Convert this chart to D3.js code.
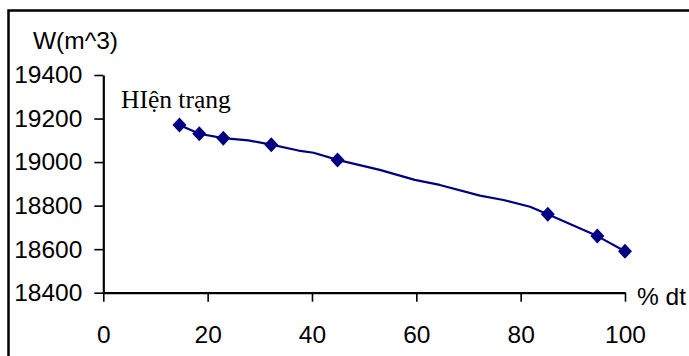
<!DOCTYPE html>
<html>
<head>
<meta charset="utf-8">
<script src="https://cdn.jsdelivr.net/npm/d3@7"></script>
<style>
  html, body { margin: 0; padding: 0; background: #fff; }
  svg { display: block; }
  .axis text { font-family: "Liberation Sans", Arial, sans-serif; font-size: 24.5px; fill: #000; }
  .axis path.domain { stroke: #000; stroke-width: 2.2px; }
  .axis .tick line { stroke: #000; stroke-width: 1.6px; }
</style>
</head>
<body>
<svg id="chart" width="689" height="356"></svg>
<script>
// Percent of area (% dt) vs. volume W (m^3)
const markerPct = [14.6, 18.4, 23, 32.2, 44.9, 85.2, 94.7, 100];
const markerW   = [19170, 19130, 19110, 19080, 19010, 18760, 18660, 18590];

// Smoothed curve through the scenarios
const curvePct = [14.6, 18.4, 23, 27.8, 32.2, 37.4, 40.3, 44.9, 53, 59.7, 64.5, 72.2, 76.7, 81.8, 85.2, 94.7, 100];
const curveW   = [19170, 19130, 19110, 19100, 19080, 19053, 19043, 19010, 18964, 18918, 18895, 18846, 18826, 18795, 18760, 18660, 18590];

const xTicks = [0, 20, 40, 60, 80, 100];
const yTicks = [18400, 18600, 18800, 19000, 19200, 19400];

const yTitle = "W(m^3)";
const xTitle = "% dt";
const annotation = "HIện trạng";

const svg = d3.select("#chart");
const navy = "#000080";

// outer frame
svg.append("rect")
  .attr("x", 8.5).attr("y", 10.5)
  .attr("width", 720).attr("height", 400)
  .attr("fill", "none").attr("stroke", "#000").attr("stroke-width", 2.5);

const x = d3.scaleLinear().domain([0, 100]).range([103.3, 625]);
const y = d3.scaleLinear().domain([18400, 19400]).range([292.7, 75]);

svg.append("g")
  .attr("class", "axis")
  .attr("transform", `translate(0,${y(18400)})`)
  .call(d3.axisBottom(x).tickValues(xTicks).tickSize(9).tickSizeOuter(0).tickPadding(24).tickFormat(d3.format("d")));

svg.append("g")
  .attr("class", "axis")
  .attr("transform", `translate(${x(0)},0)`)
  .call(d3.axisLeft(y).tickValues(yTicks).tickSize(9).tickSizeOuter(0).tickPadding(12).tickFormat(d3.format("d")));

// axis titles
svg.append("text")
  .attr("x", 33).attr("y", 48.5)
  .attr("font-family", "Liberation Sans, Arial, sans-serif")
  .attr("font-size", 24.5)
  .text(yTitle);

svg.append("text")
  .attr("x", 637).attr("y", 304.5)
  .attr("font-family", "Liberation Sans, Arial, sans-serif")
  .attr("font-size", 24.5)
  .text(xTitle);

// curve
const curve = curvePct.map((p, i) => [p, curveW[i]]);
svg.append("path")
  .datum(curve)
  .attr("fill", "none")
  .attr("stroke", navy)
  .attr("stroke-width", 2.2)
  .attr("stroke-linejoin", "round")
  .attr("d", d3.line().x(d => x(d[0])).y(d => y(d[1])));

// diamond markers
const diamond = {
  draw(ctx, size) {
    const w = 7, h = 7.5;
    ctx.moveTo(0, -h); ctx.lineTo(w, 0); ctx.lineTo(0, h); ctx.lineTo(-w, 0); ctx.closePath();
  }
};
svg.append("g").selectAll("path")
  .data(markerPct.map((p, i) => [p, markerW[i]]))
  .join("path")
  .attr("transform", d => `translate(${x(d[0])},${y(d[1])})`)
  .attr("fill", navy)
  .attr("d", d3.symbol().type(diamond));

// annotation for the current state
svg.append("text")
  .attr("x", 121).attr("y", 108.3)
  .attr("font-family", "Liberation Serif, Times New Roman, serif")
  .attr("font-size", 25.5)
  .text(annotation);
</script>
</body>
</html>
